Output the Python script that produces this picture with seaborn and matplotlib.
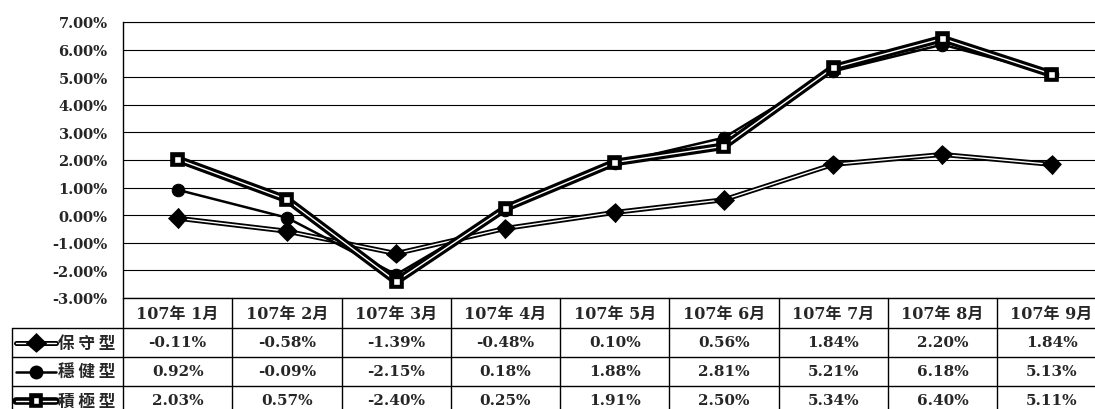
import numpy as np
import pandas as pd
import matplotlib
matplotlib.use('Agg')
import matplotlib.pyplot as plt
import matplotlib.patheffects as pe
from matplotlib.lines import Line2D
import seaborn as sns

# data, values in %
months = ['107年 1月', '107年 2月', '107年 3月', '107年 4月', '107年 5月',
          '107年 6月', '107年 7月', '107年 8月', '107年 9月']
series_names = ['保守型', '穩健型', '積極型']
conservative = [-0.11, -0.58, -1.39, -0.48, 0.10, 0.56, 1.84, 2.20, 1.84]
balanced = [0.92, -0.09, -2.15, 0.18, 1.88, 2.81, 5.21, 6.18, 5.13]
aggressive = [2.03, 0.57, -2.40, 0.25, 1.91, 2.50, 5.34, 6.40, 5.11]
y_ticks = [-3, -2, -1, 0, 1, 2, 3, 4, 5, 6, 7]

sns.set_style('white')
plt.rcParams['font.family'] = ['DejaVu Serif', 'Noto Sans CJK TC']
plt.rcParams['font.weight'] = 'bold'

W, H = 1095, 410
fig = plt.figure(figsize=(W / 100, H / 100), dpi=100)

# pixel layout
x0, col_w = 123, 109.25
col_edges = x0 + col_w * np.arange(len(months) + 1)
y_top, y_bot = 23, 299
row_edges = [299, 329, 358, 387, 416]
lab_left = 12

# table layer (whole figure, pixel coords)
tab = fig.add_axes([0, 0, 1, 1], zorder=0)
tab.set_xlim(0, W)
tab.set_ylim(H, 0)
tab.axis('off')

ax = fig.add_axes([x0 / W, 1 - y_bot / H, (col_edges[-1] - x0) / W, (y_bot - y_top) / H], zorder=2)
ax.patch.set_alpha(0)

styles = {
    '保守型': dict(color='white', lw=1.0, marker='D', ms=7, mfc='black', mec='black',
                path_effects=[pe.Stroke(linewidth=3.6, foreground='black'), pe.Normal()]),
    '穩健型': dict(color='black', lw=1.8, marker='o', ms=9, mfc='black', mec='black'),
    '積極型': dict(color='white', lw=1.0, marker='s', ms=5, mfc='white', mec='black', mew=1.0,
                path_effects=[pe.Stroke(linewidth=5.5, foreground='black'), pe.Normal()]),
}
values = {'保守型': conservative, '穩健型': balanced, '積極型': aggressive}

for name in ['保守型', '穩健型', '積極型']:
    df = pd.DataFrame({'x': np.arange(len(months)), 'y': values[name]})
    sns.lineplot(data=df, x='x', y='y', ax=ax, estimator=None, sort=False,
                 legend=False, **styles[name])

ax.set_xlim(-0.5, len(months) - 0.5)
ax.set_ylim(y_ticks[0], y_ticks[-1])
ax.set_yticks(y_ticks)
ax.set_yticklabels([f'{v:.2f}%' for v in y_ticks], fontsize=10.5, fontweight='bold')
ax.set_xticks([])
ax.set_xlabel('')
ax.set_ylabel('')
ax.tick_params(axis='y', length=0, pad=11)
ax.yaxis.grid(True, color='black', lw=0.8)
ax.set_axisbelow(True)
for s in ['right', 'bottom']:
    ax.spines[s].set_visible(False)
ax.spines['left'].set_color('black')
ax.spines['top'].set_color('black')
ax.spines['left'].set_linewidth(1.0)
ax.spines['top'].set_linewidth(0.8)

# table grid
lk = dict(color='black', lw=1.0)
tab.plot([x0, W], [row_edges[0]] * 2, **lk)
for y in row_edges[1:-1]:
    tab.plot([lab_left, W], [y, y], **lk)
for x in col_edges:
    tab.plot([x, x], [row_edges[0], row_edges[-1]], **lk)
tab.plot([lab_left, lab_left], [row_edges[1], row_edges[-1]], **lk)

col_mid = (col_edges[:-1] + col_edges[1:]) / 2
hdr_y = (row_edges[0] + row_edges[1]) / 2
for cx, m in zip(col_mid, months):
    tab.text(cx, hdr_y, m, ha='center', va='center', fontsize=11.5, fontweight='bold')

for i, name in enumerate(series_names):
    cy = (row_edges[i + 1] + row_edges[i + 2]) / 2
    for cx, v in zip(col_mid, values[name]):
        tab.text(cx, cy, f'{v:.2f}%', ha='center', va='center', fontsize=11, fontweight='bold')
    # legend key
    st = styles[name]
    key = Line2D([16, 36, 56], [cy, cy, cy], markevery=[1], **st)
    tab.add_line(key)
    tab.text(58, cy, ' '.join(name), ha='left', va='center', fontsize=12,
             fontweight='bold', family=['Noto Sans CJK TC', 'DejaVu Sans'])

fig.savefig('out.png', dpi=100)
